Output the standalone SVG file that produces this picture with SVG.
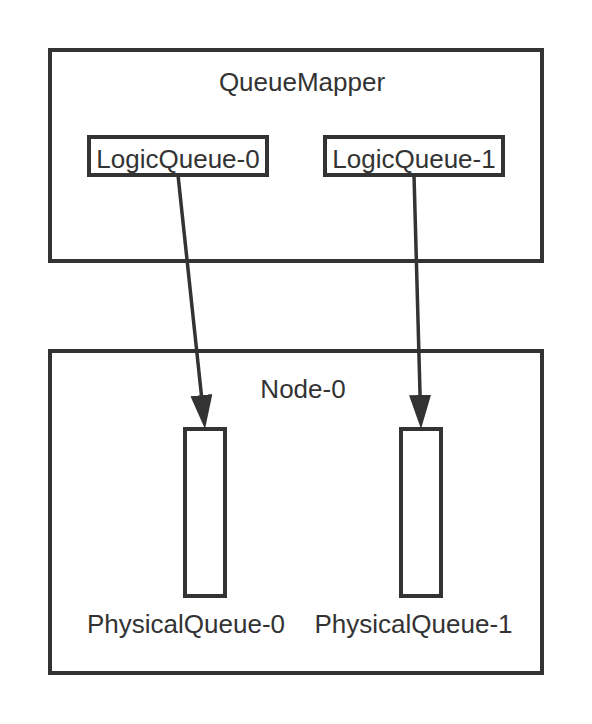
<svg xmlns="http://www.w3.org/2000/svg" width="592" height="724" viewBox="0 0 592 724">
<style>
.box{fill:#fff;stroke:#333;stroke-width:4}
.lbl{font-family:"Liberation Sans",Arial,Helvetica,sans-serif;font-size:26px;fill:#333;text-anchor:middle}
.edge{stroke:#333;stroke-width:3.5;fill:none;marker-end:url(#arrow)}
</style>
<defs>
<marker id="arrow" markerUnits="userSpaceOnUse" markerWidth="34" markerHeight="22" refX="14" refY="11" orient="auto" viewBox="0 0 34 22">
<path d="M0,0 L34,11 L0,22 z" fill="#333"/>
</marker>
</defs>
<rect width="592" height="724" fill="#fff"/>
<g id="queuemapper">
<rect class="box" x="50" y="50" width="492" height="211"/>
<text class="lbl" x="302" y="91">QueueMapper</text>
</g>
<g id="logicqueue-0">
<rect class="box" x="89" y="137" width="178" height="38"/>
<text class="lbl" x="178" y="168">LogicQueue-0</text>
</g>
<g id="logicqueue-1">
<rect class="box" x="325" y="137" width="178" height="38"/>
<text class="lbl" x="414" y="168">LogicQueue-1</text>
</g>
<g id="node-0">
<rect class="box" x="50" y="351" width="492" height="322"/>
<text class="lbl" x="303" y="398">Node-0</text>
</g>
<g id="physicalqueue-0">
<rect class="box" x="185" y="429" width="40" height="167"/>
<text class="lbl" x="186" y="633">PhysicalQueue-0</text>
</g>
<g id="physicalqueue-1">
<rect class="box" x="401" y="429" width="40" height="167"/>
<text class="lbl" x="413.5" y="633">PhysicalQueue-1</text>
</g>
<g id="connectors">
<line class="edge" x1="178" y1="175" x2="202.9" y2="409.1"/>
<line class="edge" x1="414" y1="175" x2="420.45" y2="409"/>
</g>
</svg>
